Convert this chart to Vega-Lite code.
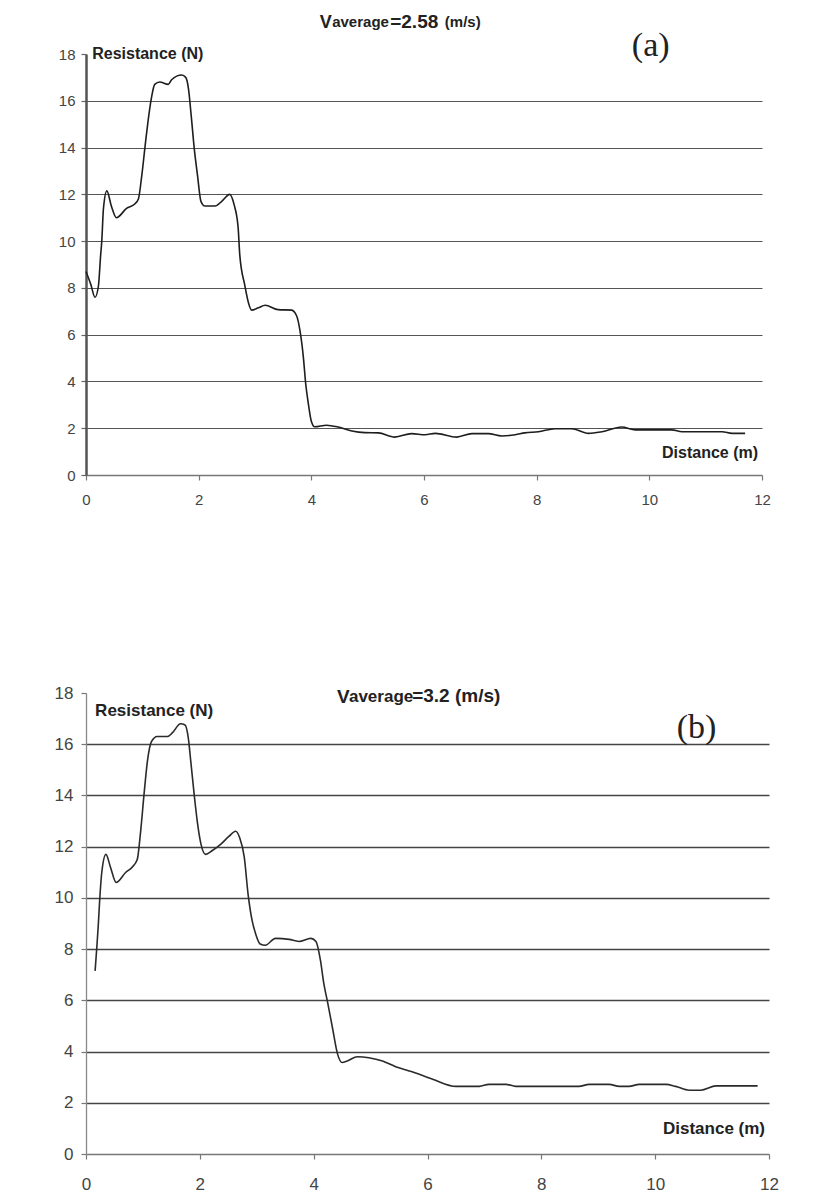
{
  "$schema": "https://vega.github.io/schema/vega-lite/v6.json",
  "background": "white",
  "padding": {"left": 54, "top": 13, "right": 5, "bottom": 5},
  "config": {"view": {"stroke": null}, "font": "Liberation Sans"},
  "datasets": {
    "a": [
      {"distance": 0.00, "resistance": 8.7}, {"distance": 0.085, "resistance": 8.15}, {"distance": 0.16, "resistance": 7.6},
      {"distance": 0.22, "resistance": 8.07}, {"distance": 0.26, "resistance": 9.4}, {"distance": 0.28, "resistance": 10.0},
      {"distance": 0.31, "resistance": 11.4}, {"distance": 0.37, "resistance": 12.15}, {"distance": 0.45, "resistance": 11.5},
      {"distance": 0.54, "resistance": 11.0}, {"distance": 0.72, "resistance": 11.4}, {"distance": 0.87, "resistance": 11.6},
      {"distance": 0.93, "resistance": 11.8}, {"distance": 0.99, "resistance": 12.8}, {"distance": 1.06, "resistance": 14.3},
      {"distance": 1.10, "resistance": 15.1}, {"distance": 1.16, "resistance": 16.1}, {"distance": 1.22, "resistance": 16.7},
      {"distance": 1.31, "resistance": 16.8}, {"distance": 1.46, "resistance": 16.7}, {"distance": 1.52, "resistance": 16.9},
      {"distance": 1.70, "resistance": 17.1}, {"distance": 1.77, "resistance": 17.0}, {"distance": 1.82, "resistance": 16.5},
      {"distance": 1.87, "resistance": 15.3}, {"distance": 1.92, "resistance": 14.0}, {"distance": 1.98, "resistance": 12.8},
      {"distance": 2.04, "resistance": 11.7}, {"distance": 2.11, "resistance": 11.5}, {"distance": 2.29, "resistance": 11.5},
      {"distance": 2.41, "resistance": 11.7}, {"distance": 2.55, "resistance": 12.0}, {"distance": 2.63, "resistance": 11.55},
      {"distance": 2.70, "resistance": 10.6}, {"distance": 2.73, "resistance": 9.4}, {"distance": 2.82, "resistance": 8.1},
      {"distance": 2.88, "resistance": 7.4}, {"distance": 2.94, "resistance": 7.05}, {"distance": 3.06, "resistance": 7.15},
      {"distance": 3.18, "resistance": 7.26}, {"distance": 3.41, "resistance": 7.07}, {"distance": 3.65, "resistance": 7.05},
      {"distance": 3.74, "resistance": 6.8}, {"distance": 3.80, "resistance": 6.15}, {"distance": 3.86, "resistance": 5.0},
      {"distance": 3.90, "resistance": 3.9}, {"distance": 3.95, "resistance": 3.0}, {"distance": 4.00, "resistance": 2.3},
      {"distance": 4.06, "resistance": 2.06}, {"distance": 4.27, "resistance": 2.13}, {"distance": 4.48, "resistance": 2.05},
      {"distance": 4.72, "resistance": 1.88}, {"distance": 4.95, "resistance": 1.81}, {"distance": 5.19, "resistance": 1.80},
      {"distance": 5.48, "resistance": 1.62}, {"distance": 5.78, "resistance": 1.77}, {"distance": 6.02, "resistance": 1.72},
      {"distance": 6.20, "resistance": 1.78}, {"distance": 6.58, "resistance": 1.62}, {"distance": 6.85, "resistance": 1.77},
      {"distance": 7.14, "resistance": 1.77}, {"distance": 7.38, "resistance": 1.67}, {"distance": 7.62, "resistance": 1.72},
      {"distance": 7.79, "resistance": 1.80}, {"distance": 8.03, "resistance": 1.85}, {"distance": 8.33, "resistance": 1.98},
      {"distance": 8.62, "resistance": 1.98}, {"distance": 8.92, "resistance": 1.78}, {"distance": 9.16, "resistance": 1.85},
      {"distance": 9.51, "resistance": 2.05}, {"distance": 9.75, "resistance": 1.93}, {"distance": 10.40, "resistance": 1.93},
      {"distance": 10.58, "resistance": 1.85}, {"distance": 11.29, "resistance": 1.85}, {"distance": 11.47, "resistance": 1.78},
      {"distance": 11.70, "resistance": 1.78}
    ],
    "b": [
      {"distance": 0.16, "resistance": 7.15}, {"distance": 0.22, "resistance": 9.1}, {"distance": 0.24, "resistance": 9.9},
      {"distance": 0.28, "resistance": 11.05}, {"distance": 0.35, "resistance": 11.7}, {"distance": 0.43, "resistance": 11.2},
      {"distance": 0.53, "resistance": 10.6}, {"distance": 0.70, "resistance": 11.0}, {"distance": 0.81, "resistance": 11.2},
      {"distance": 0.90, "resistance": 11.5}, {"distance": 0.96, "resistance": 12.6}, {"distance": 1.02, "resistance": 14.05},
      {"distance": 1.08, "resistance": 15.35}, {"distance": 1.15, "resistance": 16.1}, {"distance": 1.25, "resistance": 16.3},
      {"distance": 1.43, "resistance": 16.3}, {"distance": 1.52, "resistance": 16.45}, {"distance": 1.66, "resistance": 16.8},
      {"distance": 1.74, "resistance": 16.75}, {"distance": 1.80, "resistance": 16.2}, {"distance": 1.84, "resistance": 15.35},
      {"distance": 1.90, "resistance": 14.05}, {"distance": 1.96, "resistance": 12.9}, {"distance": 2.02, "resistance": 12.1},
      {"distance": 2.10, "resistance": 11.7}, {"distance": 2.22, "resistance": 11.85}, {"distance": 2.37, "resistance": 12.1},
      {"distance": 2.51, "resistance": 12.4}, {"distance": 2.63, "resistance": 12.6}, {"distance": 2.70, "resistance": 12.35},
      {"distance": 2.78, "resistance": 11.6}, {"distance": 2.85, "resistance": 10.1}, {"distance": 2.92, "resistance": 9.1},
      {"distance": 2.98, "resistance": 8.6}, {"distance": 3.06, "resistance": 8.2}, {"distance": 3.15, "resistance": 8.15},
      {"distance": 3.33, "resistance": 8.42}, {"distance": 3.57, "resistance": 8.38}, {"distance": 3.74, "resistance": 8.30},
      {"distance": 3.95, "resistance": 8.42}, {"distance": 4.04, "resistance": 8.30}, {"distance": 4.12, "resistance": 7.55},
      {"distance": 4.18, "resistance": 6.63}, {"distance": 4.24, "resistance": 5.98}, {"distance": 4.33, "resistance": 4.93},
      {"distance": 4.42, "resistance": 3.90}, {"distance": 4.50, "resistance": 3.57}, {"distance": 4.59, "resistance": 3.63},
      {"distance": 4.77, "resistance": 3.80}, {"distance": 4.97, "resistance": 3.76}, {"distance": 5.21, "resistance": 3.63},
      {"distance": 5.44, "resistance": 3.41}, {"distance": 5.73, "resistance": 3.21}, {"distance": 6.09, "resistance": 2.92},
      {"distance": 6.50, "resistance": 2.64}, {"distance": 6.91, "resistance": 2.64}, {"distance": 7.08, "resistance": 2.72},
      {"distance": 7.38, "resistance": 2.72}, {"distance": 7.55, "resistance": 2.64}, {"distance": 8.66, "resistance": 2.64},
      {"distance": 8.84, "resistance": 2.72}, {"distance": 9.19, "resistance": 2.72}, {"distance": 9.37, "resistance": 2.64},
      {"distance": 9.54, "resistance": 2.64}, {"distance": 9.72, "resistance": 2.72}, {"distance": 10.19, "resistance": 2.72},
      {"distance": 10.36, "resistance": 2.64}, {"distance": 10.60, "resistance": 2.49}, {"distance": 10.80, "resistance": 2.49},
      {"distance": 11.07, "resistance": 2.66}, {"distance": 11.80, "resistance": 2.66}
    ]
  },
  "bounds": "flush",
  "spacing": 218,
  "vconcat": [
    {
      "width": 676,
      "height": 421,
      "layer": [
        {
          "data": {"name": "a"},
          "mark": {"type": "line", "interpolate": "monotone", "color": "#1e1e1e", "strokeWidth": 1.6},
          "encoding": {
            "x": {"field": "distance", "type": "quantitative", "scale": {"domain": [0, 12], "nice": false, "zero": false},
              "axis": {"values": [0, 2, 4, 6, 8, 10, 12], "format": "d", "title": null, "grid": false, "domainColor": "#777", "domainWidth": 1.5,
                "tickColor": "#777", "tickWidth": 1.2, "tickSize": 5, "labelFontSize": 15, "labelColor": "#444", "labelPadding": 12, "labelFlush": false}},
            "y": {"field": "resistance", "type": "quantitative", "scale": {"domain": [0, 18], "nice": false},
              "axis": {"values": [0, 2, 4, 6, 8, 10, 12, 14, 16, 18], "format": "d", "title": null, "grid": true, "gridColor": "#555", "gridWidth": 1.2,
                "gridOpacity": {"condition": {"test": "datum.value == 0 || datum.value == 18", "value": 0}, "value": 1},
                "domainColor": "#555", "domainWidth": 2.5, "tickColor": "#666", "tickWidth": 1.2, "tickSize": 5,
                "labelFontSize": 15, "labelColor": "#444", "labelPadding": 6}}
          }
        },
        {"data": {"values": [{}]}, "mark": {"type": "text", "text": "V", "align": "left", "baseline": "alphabetic", "fontSize": 18, "fontWeight": "bold", "color": "#222"},
          "encoding": {"x": {"datum": 4.15}, "y": {"datum": 19.11}}},
        {"data": {"values": [{}]}, "mark": {"type": "text", "text": "average", "align": "left", "baseline": "alphabetic", "fontSize": 15, "fontWeight": "bold", "color": "#222"},
          "encoding": {"x": {"datum": 4.37}, "y": {"datum": 19.15}}},
        {"data": {"values": [{}]}, "mark": {"type": "text", "text": "=2.58", "align": "left", "baseline": "alphabetic", "fontSize": 19, "fontWeight": "bold", "color": "#222"},
          "encoding": {"x": {"datum": 5.40}, "y": {"datum": 19.11}}},
        {"data": {"values": [{}]}, "mark": {"type": "text", "text": "(m/s)", "align": "left", "baseline": "alphabetic", "fontSize": 15, "fontWeight": "bold", "color": "#222"},
          "encoding": {"x": {"datum": 6.37}, "y": {"datum": 19.15}}},
        {"data": {"values": [{}]}, "mark": {"type": "text", "text": "(a)", "align": "left", "baseline": "middle", "fontSize": 34, "font": "Liberation Serif", "color": "#222"},
          "encoding": {"x": {"datum": 9.69}, "y": {"datum": 18.34}}},
        {"data": {"values": [{}]}, "mark": {"type": "text", "text": "Resistance (N)", "align": "left", "baseline": "middle", "fontSize": 16, "fontWeight": "bold", "color": "#222"},
          "encoding": {"x": {"datum": 0.11}, "y": {"datum": 18.02}}},
        {"data": {"values": [{}]}, "mark": {"type": "text", "text": "Distance (m)", "align": "right", "baseline": "middle", "fontSize": 16, "fontWeight": "bold", "color": "#222"},
          "encoding": {"x": {"datum": 11.93}, "y": {"datum": 0.96}}}
      ]
    },
    {
      "width": 683,
      "height": 461,
      "layer": [
        {
          "data": {"name": "b"},
          "mark": {"type": "line", "interpolate": "monotone", "color": "#2a2a2a", "strokeWidth": 1.6},
          "encoding": {
            "x": {"field": "distance", "type": "quantitative", "scale": {"domain": [0, 12], "nice": false, "zero": false},
              "axis": {"values": [0, 2, 4, 6, 8, 10, 12], "format": "d", "title": null, "grid": false, "domainColor": "#777", "domainWidth": 1.5,
                "tickColor": "#777", "tickWidth": 1.2, "tickSize": 5, "labelFontSize": 17, "labelColor": "#444", "labelPadding": 17, "labelFlush": false}},
            "y": {"field": "resistance", "type": "quantitative", "scale": {"domain": [0, 18], "nice": false},
              "axis": {"values": [0, 2, 4, 6, 8, 10, 12, 14, 16, 18], "format": "d", "title": null, "grid": true, "gridColor": "#444", "gridWidth": 1.3,
                "gridOpacity": {"condition": {"test": "datum.value == 0 || datum.value == 18", "value": 0}, "value": 1},
                "domainColor": "#888", "domainWidth": 1.3, "tickColor": "#777", "tickWidth": 1.2, "tickSize": 5,
                "labelFontSize": 17, "labelColor": "#444", "labelPadding": 8}}
          }
        },
        {"data": {"values": [{}]}, "mark": {"type": "text", "text": "V", "align": "left", "baseline": "alphabetic", "fontSize": 19, "fontWeight": "bold", "color": "#222"},
          "encoding": {"x": {"datum": 4.41}, "y": {"datum": 17.61}}},
        {"data": {"values": [{}]}, "mark": {"type": "text", "text": "average", "align": "left", "baseline": "alphabetic", "fontSize": 17, "fontWeight": "bold", "color": "#222"},
          "encoding": {"x": {"datum": 4.62}, "y": {"datum": 17.65}}},
        {"data": {"values": [{}]}, "mark": {"type": "text", "text": "=3.2 (m/s)", "align": "left", "baseline": "alphabetic", "fontSize": 19, "fontWeight": "bold", "color": "#222"},
          "encoding": {"x": {"datum": 5.73}, "y": {"datum": 17.65}}},
        {"data": {"values": [{}]}, "mark": {"type": "text", "text": "(b)", "align": "left", "baseline": "middle", "fontSize": 34, "font": "Liberation Serif", "color": "#222"},
          "encoding": {"x": {"datum": 10.38}, "y": {"datum": 16.63}}},
        {"data": {"values": [{}]}, "mark": {"type": "text", "text": "Resistance (N)", "align": "left", "baseline": "middle", "fontSize": 17, "fontWeight": "bold", "color": "#222"},
          "encoding": {"x": {"datum": 0.16}, "y": {"datum": 17.3}}},
        {"data": {"values": [{}]}, "mark": {"type": "text", "text": "Distance (m)", "align": "right", "baseline": "middle", "fontSize": 17, "fontWeight": "bold", "color": "#222"},
          "encoding": {"x": {"datum": 11.93}, "y": {"datum": 0.98}}}
      ]
    }
  ]
}
